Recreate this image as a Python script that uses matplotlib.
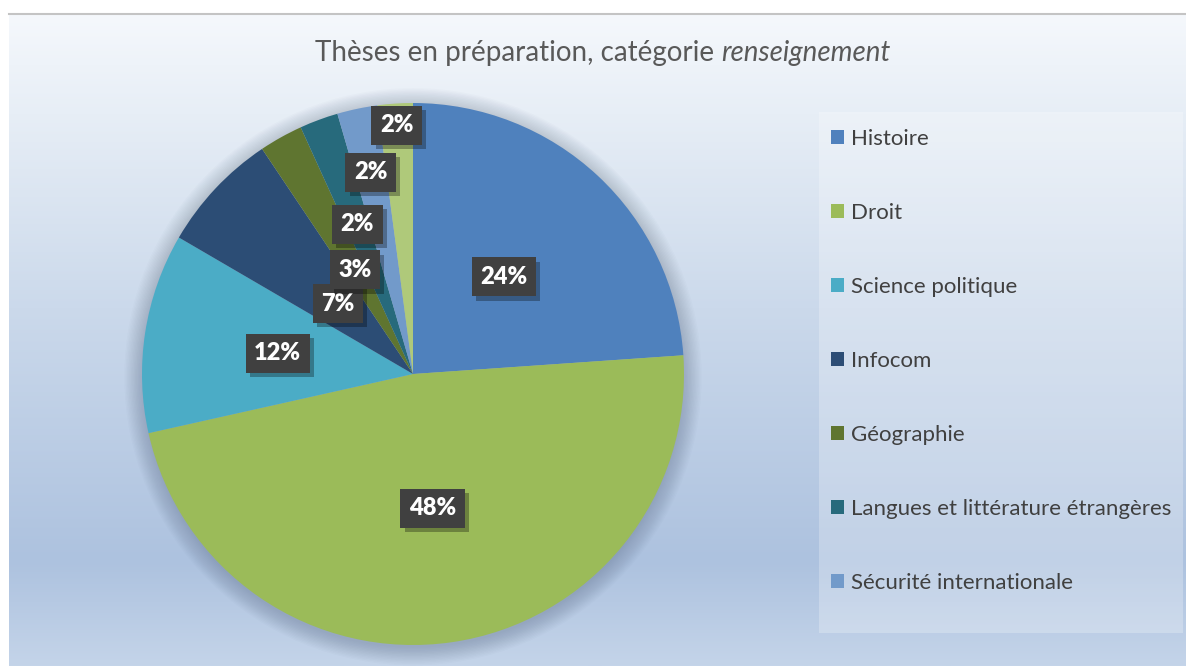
import numpy as np
import matplotlib
matplotlib.use("Agg")
import matplotlib.pyplot as plt
import matplotlib.patheffects as pe
from matplotlib.colors import LinearSegmentedColormap
from matplotlib.patches import Rectangle, Circle
from matplotlib.lines import Line2D

plt.rcParams['font.family'] = ['Lato', 'DejaVu Sans']

# donnees
categories = ["Histoire", "Droit", "Science politique", "Infocom", "Géographie",
              "Langues et littérature étrangères", "Sécurité internationale", "Autres"]
values = [23.9, 47.6, 11.9, 7.2, 2.6, 2.3, 2.4, 2.1]
colors = ["#4f81bd", "#9bbb59", "#4bacc6", "#2c4d75", "#5f7530",
          "#276a7c", "#729aca", "#afc97a"]
n_legend = 7
label_r = [0.49, 0.50, 0.505, 0.38, 0.44, 0.59, 0.76, 0.92]

W, H = 1186, 666
fig = plt.figure(figsize=(W / 100, H / 100), dpi=100)
fig.patch.set_facecolor("white")

# fond en degrade
bg = fig.add_axes([9 / W, 0, 1 - 9 / W, 651 / H])
cmap = LinearSegmentedColormap.from_list("bg", [
    (0.0, "#f5f8fc"), (0.15, "#e7eef6"), (0.45, "#cbd9eb"),
    (0.84, "#adc2df"), (1.0, "#c4d4e9")])
bg.imshow(np.linspace(0, 1, 256).reshape(-1, 1), cmap=cmap, aspect="auto",
          extent=[0, 1, 0, 1])
bg.axis("off")
fig.add_artist(Line2D([9 / W, 1], [652 / H, 652 / H], color="#c4c4c4", lw=1.5))

# camembert
cx, cy, r = 413, H - 374, 271
ax = fig.add_axes([(cx - r) / W, (cy - r) / H, 2 * r / W, 2 * r / H])
for k in range(14):
    ax.add_patch(Circle((0, -0.01), 1 + 0.005 * k, color="#3a4a66", alpha=0.018,
                        zorder=0, clip_on=False, lw=0))
wedges, _ = ax.pie(values, colors=colors, startangle=90, counterclock=False,
                   radius=1, wedgeprops=dict(linewidth=0))
ax.set_xlim(-1, 1)
ax.set_ylim(-1, 1)

total = sum(values)
for i, w in enumerate(wedges):
    ang = np.deg2rad((w.theta1 + w.theta2) / 2)
    x, y = label_r[i] * np.cos(ang), label_r[i] * np.sin(ang)
    txt = "%.0f%%" % (values[i] / total * 100)
    t = ax.text(x, y, txt, ha="center", va="center", fontsize=17, fontweight="heavy",
                color="white", zorder=5,
                bbox=dict(boxstyle="square,pad=0.36", fc="#404040", ec="none"))
    t.get_bbox_patch().set_path_effects([
        pe.SimplePatchShadow(offset=(3, -3), shadow_rgbFace="black", alpha=0.3),
        pe.Normal()])

# titre
renderer = fig.canvas.get_renderer()
t1 = fig.text(0, (H - 53) / H, "Thèses en préparation, catégorie", fontsize=20,
              color="#595959", va="center")
t2 = fig.text(0, (H - 53) / H, "renseignement", fontsize=20, style="italic",
              color="#595959", va="center")
w1 = t1.get_window_extent(renderer).width
w2 = t2.get_window_extent(renderer).width
gap = 20 * 0.26 * 100 / 72
x0 = 603 - (w1 + gap + w2) / 2
t1.set_x(x0 / W)
t2.set_x((x0 + w1 + gap) / W)

# legende
fig.add_artist(Rectangle((819 / W, (H - 633) / H), 364 / W, 521 / H,
                         transform=fig.transFigure, fc="white", alpha=0.25, ec="none"))
leg = fig.legend(wedges[:n_legend], categories[:n_legend], loc="upper left",
                 bbox_to_anchor=(831 / W, (H - 129) / H), frameon=False,
                 fontsize=16, labelspacing=2.43, handlelength=0.6,
                 handleheight=0.6, handletextpad=0.28, borderpad=0,
                 borderaxespad=0)
for t in leg.get_texts():
    t.set_color("#404040")

fig.savefig("out.png", dpi=100)
